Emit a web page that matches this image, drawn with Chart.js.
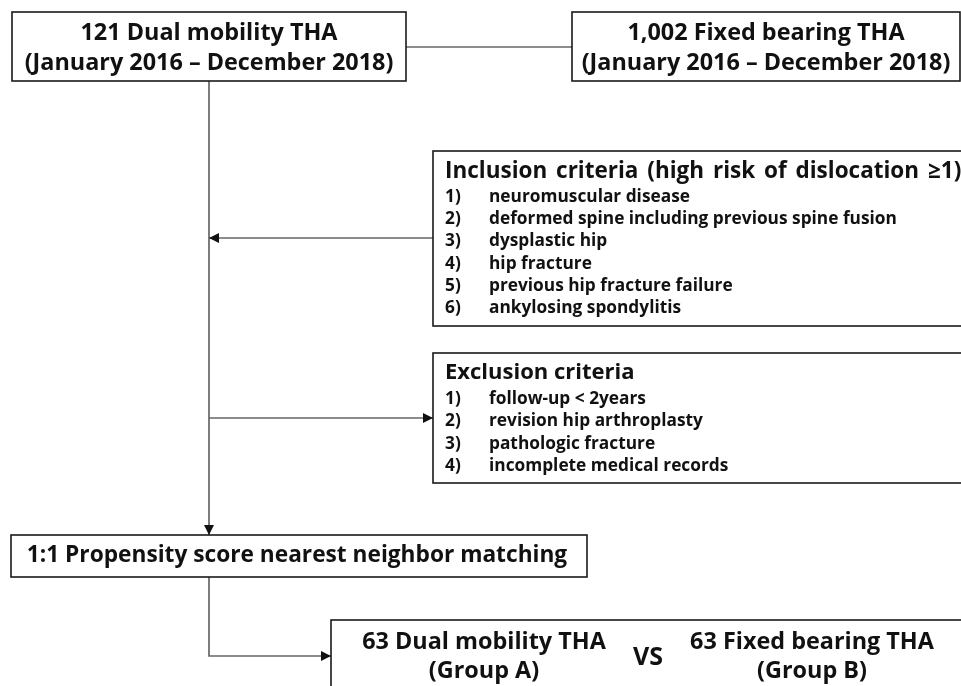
<!DOCTYPE html>
<html>
<head>
<meta charset="utf-8">
<script src="https://cdn.jsdelivr.net/npm/chart.js@4/dist/chart.umd.min.js"></script>
<style>
  html, body { margin: 0; padding: 0; background: #fff; }
  #wrap { width: 961px; height: 686px; }
</style>
</head>
<body>
<div id="wrap"><canvas id="flow" width="961" height="686"></canvas></div>
<script>
// box texts
const sourceDual = ["121 Dual mobility THA", "(January 2016 – December 2018)"];
const sourceFixed = ["1,002 Fixed bearing THA", "(January 2016 – December 2018)"];
const inclusionTitle = "Inclusion criteria (high risk of dislocation ≥1)";
const inclusionItems = [
  "neuromuscular disease",
  "deformed spine including previous spine fusion",
  "dysplastic hip",
  "hip fracture",
  "previous hip fracture failure",
  "ankylosing spondylitis",
];
const exclusionTitle = "Exclusion criteria";
const exclusionItems = [
  "follow-up < 2years",
  "revision hip arthroplasty",
  "pathologic fracture",
  "incomplete medical records",
];
const matchingLabel = ["1:1 Propensity score nearest neighbor matching"];
const groupA = ["63 Dual mobility THA", "(Group A)"];
const groupB = ["63 Fixed bearing THA", "(Group B)"];
const versusLabel = "VS";

// layout, in axis units (x: 0..961 left to right, y: 0..686 top to bottom)
const BIG = "bold 23.4px 'Open Sans'";
const ITEM = "bold 17.3px 'Open Sans'";

const centeredBoxes = [
  { rect: [12, 12, 406, 81], lines: sourceDual, cx: 209, ys: [33, 63], font: BIG },
  { rect: [572, 12, 960, 81], lines: sourceFixed, cx: 766, ys: [33, 63], font: BIG },
  { rect: [11, 535, 587, 577], lines: matchingLabel, cx: 297, ys: [556], font: "bold 22.7px 'Open Sans'" },
  { rect: [331, 620, 975, 700], lines: groupA, cx: 484, ys: [642, 671], font: BIG },
  { rect: [331, 620, 975, 700], lines: groupB, cx: 812, ys: [642, 671], font: BIG },
];
const listBoxes = [
  { rect: [433, 151, 975, 326], title: inclusionTitle, titleFont: "bold 22.5px 'Open Sans'", titleGap: "3px",
    items: inclusionItems, titleY: 172, firstY: 197, step: 22.2 },
  { rect: [433, 353, 975, 483], title: exclusionTitle, titleFont: "bold 22px 'Open Sans'", titleGap: "0px",
    items: exclusionItems, titleY: 373, firstY: 399, step: 22.3 },
];
const versus = { x: 648, y: 658 };

// connectors: polylines, arrow at the last point when arrow is set
const connectors = [
  { pts: [[406, 47], [572, 47]], arrow: false },
  { pts: [[209, 81], [209, 535]], arrow: true },
  { pts: [[433, 238], [209, 238]], arrow: true },
  { pts: [[209, 418], [433, 418]], arrow: true },
  { pts: [[209, 577], [209, 656], [331, 656]], arrow: true },
];

const flowPlugin = {
  id: "flowBoxes",
  afterDatasetsDraw(chart) {
    const ctx = chart.ctx;
    const sx = chart.scales.x, sy = chart.scales.y;
    const px = (v) => sx.getPixelForValue(v);
    const py = (v) => sy.getPixelForValue(v);

    ctx.save();
    // arrowheads
    ctx.fillStyle = "#111";
    connectors.forEach((c) => {
      if (!c.arrow) return;
      const a = c.pts[c.pts.length - 2], b = c.pts[c.pts.length - 1];
      const ang = Math.atan2(py(b[1]) - py(a[1]), px(b[0]) - px(a[0]));
      ctx.save();
      ctx.translate(px(b[0]), py(b[1]));
      ctx.rotate(ang);
      ctx.beginPath();
      ctx.moveTo(0, 0);
      ctx.lineTo(-10, -5);
      ctx.lineTo(-10, 5);
      ctx.closePath();
      ctx.fill();
      ctx.restore();
    });

    // box outlines
    ctx.strokeStyle = "#1a1a1a";
    ctx.lineWidth = 1.6;
    const drawn = new Set();
    [...centeredBoxes, ...listBoxes].forEach((b) => {
      const key = b.rect.join(",");
      if (drawn.has(key)) return;
      drawn.add(key);
      const [x0, y0, x1, y1] = b.rect;
      ctx.strokeRect(px(x0), py(y0), px(x1) - px(x0), py(y1) - py(y0));
    });

    ctx.fillStyle = "#111";
    ctx.textBaseline = "middle";
    // centered texts
    ctx.textAlign = "center";
    centeredBoxes.forEach((b) => {
      ctx.font = b.font;
      b.lines.forEach((t, i) => ctx.fillText(t, px(b.cx), py(b.ys[i])));
    });
    ctx.font = "bold 25px 'Open Sans'";
    ctx.fillText(versusLabel, px(versus.x), py(versus.y));

    // list boxes
    ctx.textAlign = "left";
    listBoxes.forEach((b) => {
      ctx.font = b.titleFont;
      ctx.wordSpacing = b.titleGap;
      ctx.fillText(b.title, px(b.rect[0] + 12), py(b.titleY));
      ctx.wordSpacing = "0px";
      ctx.font = ITEM;
      b.items.forEach((t, i) => {
        const y = py(b.firstY + i * b.step);
        ctx.fillText((i + 1) + ")", px(b.rect[0] + 12), y);
        ctx.fillText(t, px(b.rect[0] + 56), y);
      });
    });
    ctx.restore();
  },
};

const config = {
  type: "scatter",
  data: {
    datasets: connectors.map((c) => ({
      data: c.pts.map((p) => ({ x: p[0], y: p[1] })),
      showLine: true,
      borderColor: "#666",
      borderWidth: 1.7,
      pointRadius: 0,
      tension: 0,
    })),
  },
  options: {
    responsive: false,
    animation: false,
    events: [],
    layout: { padding: 0 },
    plugins: {
      legend: { display: false },
      tooltip: { enabled: false },
    },
    scales: {
      x: { type: "linear", min: 0, max: 961, display: false },
      y: { type: "linear", min: 0, max: 686, reverse: true, display: false },
    },
  },
  plugins: [flowPlugin],
};

const ctx = document.getElementById("flow").getContext("2d");
const flowChart = new Chart(ctx, config);
</script>
</body>
</html>
